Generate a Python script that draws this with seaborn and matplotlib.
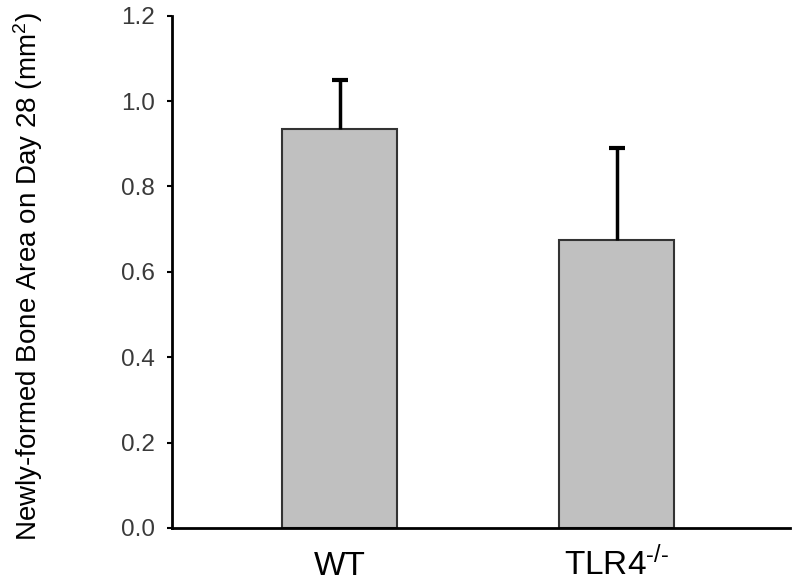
import pandas as pd
import seaborn as sns
import matplotlib
matplotlib.use('Agg')
import matplotlib.pyplot as plt

groups = ['WT', 'TLR4$^{\\text{-/-}}$']
bone_area = [0.935, 0.675]
sem = [0.115, 0.215]

sns.set_style('ticks')
plt.rcParams['font.family'] = ['Liberation Sans', 'DejaVu Sans']
plt.rcParams['mathtext.fontset'] = 'custom'
plt.rcParams['mathtext.rm'] = 'Liberation Sans'
plt.rcParams['mathtext.it'] = 'Liberation Sans'

df = pd.DataFrame({'Group': groups, 'Area': bone_area})

fig = plt.figure(figsize=(7.96, 5.84), dpi=100)
ax = fig.add_axes([0.216, 0.096, 0.776, 0.877])

sns.barplot(data=df, x='Group', y='Area', color='#c0c0c0', saturation=1,
            width=0.415, edgecolor='#333333', linewidth=1.5, errorbar=None, ax=ax)

# upper error bars only
_, caps, _ = ax.errorbar(range(len(groups)), bone_area, yerr=[[0] * len(sem), sem],
                         fmt='none', ecolor='black', elinewidth=2.5, capsize=5.5, capthick=3)
caps[0].set_visible(False)

ax.set_xlim(-0.607, 1.625)
ax.set_ylim(0, 1.2)
ax.set_yticks([0, 0.2, 0.4, 0.6, 0.8, 1.0, 1.2])
ax.set_yticklabels(['0.0', '0.2', '0.4', '0.6', '0.8', '1.0', '1.2'])
ax.tick_params(axis='y', labelsize=17.5, length=3.6, width=1.5, color='black',
               labelcolor='#3a3a3a', pad=8.5)
ax.tick_params(axis='x', labelsize=24, length=0, pad=34, labelcolor='black')
for lab in ax.get_xticklabels():
    lab.set_verticalalignment('baseline')
ax.set_xlabel('')
ax.set_ylabel('Newly-formed Bone Area on Day 28 (mm$^2$)', fontsize=20, color='black')
ax.yaxis.set_label_coords(-0.205, 0.49)

sns.despine(ax=ax)
for s in ['left', 'bottom']:
    ax.spines[s].set_linewidth(2)
    ax.spines[s].set_color('black')

fig.savefig('out.png', dpi=100)
